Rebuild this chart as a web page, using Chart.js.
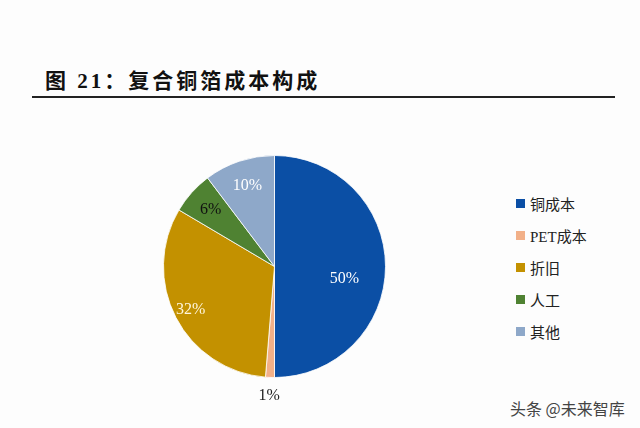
<!DOCTYPE html>
<html>
<head>
<meta charset="utf-8">
<script src="https://cdn.jsdelivr.net/npm/chart.js@4"></script>
<style>
  html, body { margin: 0; padding: 0; background: #fdfdfd; }
  #wrap { position: relative; width: 640px; height: 428px; overflow: hidden; }
  #title {
    position: absolute; left: 45px; top: 64px;
    font: bold 21px "Liberation Serif", "Noto Sans CJK SC", serif;
    letter-spacing: 3px; color: #111; white-space: nowrap;
  }
  #rule { position: absolute; left: 32px; top: 96px; width: 583px; height: 2px; background: #222; }
  #pie { position: absolute; left: 124px; top: 116px; }
  #legend { position: absolute; left: 516px; top: 187px; }
  .item { height: 32px; display: flex; align-items: center; font: 15px "Liberation Serif", "Noto Sans CJK SC", serif; color: #222; }
  .item span.sw { width: 9px; height: 9px; margin-right: 5px; display: inline-block; }
  #mark { position: absolute; left: 510px; top: 396px; font: 16px "Noto Sans CJK SC", sans-serif; color: #444; }
</style>
</head>
<body>
<div id="wrap">
  <div id="title">图 21：复合铜箔成本构成</div>
  <div id="rule"></div>
  <canvas id="pie" width="301" height="301"></canvas>
  <div id="legend"></div>
  <div id="mark">头条 @未来智库</div>
</div>
<script>
// 复合铜箔成本构成 (%); labels show rounded values
const categories = ['铜成本', 'PET成本', '折旧', '人工', '其他'];
const shares = [50, 1.3, 32.2, 6.2, 10.3];
const sliceColors = ['#0b4fa5', '#f2b088', '#c39100', '#4f8232', '#8ea8c9'];

// label placement (fraction of radius, extra y shift) and colour per slice
const labelDist = [0.63, 1.17, 0.85, 0.77, 0.77];
const labelShiftY = [12, 0, 0, 0, 0];
const labelColors = ['#ffffff', '#222222', '#fff6dc', '#111111', '#ffffff'];

// legend built from the same arrays
const legend = document.getElementById('legend');
categories.forEach((c, i) => {
  const row = document.createElement('div');
  row.className = 'item';
  row.innerHTML = `<span class="sw" style="background:${sliceColors[i]}"></span>${c}`;
  legend.appendChild(row);
});

const pctLabels = {
  id: 'pctLabels',
  afterDatasetsDraw(chart) {
    const ctx = chart.ctx;
    const meta = chart.getDatasetMeta(0);
    ctx.save();
    ctx.font = '16px "Liberation Serif", serif';
    ctx.textAlign = 'center';
    ctx.textBaseline = 'middle';
    meta.data.forEach((arc, i) => {
      const mid = (arc.startAngle + arc.endAngle) / 2;
      const r = arc.outerRadius * labelDist[i];
      ctx.fillStyle = labelColors[i];
      ctx.fillText(Math.round(shares[i]) + '%',
        arc.x + Math.cos(mid) * r,
        arc.y + Math.sin(mid) * r + labelShiftY[i]);
    });
    ctx.restore();
  }
};

new Chart(document.getElementById('pie').getContext('2d'), {
  type: 'pie',
  data: {
    labels: categories,
    datasets: [{
      data: shares,
      backgroundColor: sliceColors,
      borderColor: '#ffffff',
      borderWidth: 0.8,
      radius: 111
    }]
  },
  options: {
    responsive: false,
    animation: false,
    layout: { padding: 0 },
    plugins: { legend: { display: false }, tooltip: { enabled: false } }
  },
  plugins: [pctLabels]
});
</script>
</body>
</html>
